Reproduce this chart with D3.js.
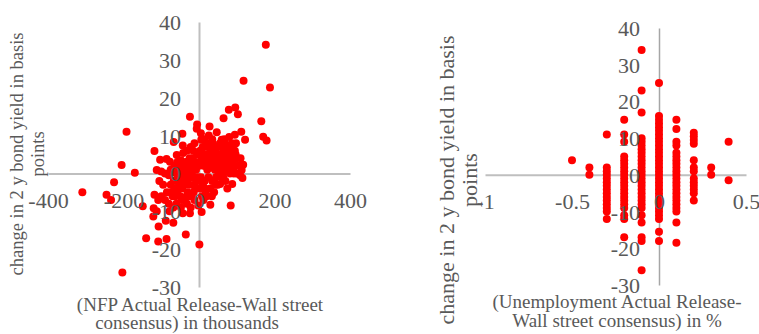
<!DOCTYPE html>
<html>
<head>
<meta charset="utf-8">
<script src="https://cdn.jsdelivr.net/npm/d3@7"></script>
<style>
  html, body { margin: 0; padding: 0; background: #ffffff; }
  svg { display: block; }
  text { font-family: "Liberation Serif", "Times New Roman", serif; fill: #595959; }
</style>
</head>
<body>
<svg id="chart" width="759" height="334"></svg>
<script>
// NFP surprise (thousands) vs. change in 2y yield (bp)
const nfpSurprise = [
  177, 118, 188, -24, 65, 79, 96, 103, 165, 170, 179, -192, -5, -6, 28, -44, 47, 112, 122, 95,
  80, 60, 56, 5, 6, -43, -67, -118, -205, -103, -86, -77, -59, -42, -225, -309, -245, -233, -203, -170,
  -149, -118, -120, -121, -107, -140, -108, -86, -88, -68, -43, -35, 1, 84, 109, 115, 88, 56, 18, 30,
  -2, -24, 7, -112, -108, -90, -112, 87, 117, 113, 91,
  10, 15, 20, 25, 30, 35, 40, 45, 50, 55, 60, 65, 70, 75, 80, 85, 90, 95, 100, 105,
  12, 22, 33, 42, 52, 62, 72, 82, 92, 100, 8, 18, 28, 38, 48, 58, 68, 78, 88, 98,
  3, 14, 26, 36, 46, 66, 76, 86,
  -5, -10, -15, -20, -25, -30, -35, -40, -45, -50, -55, -60, -65, -70, -75, -80, -90, -100, -12, -22,
  -32, -48, -8, -18, -28, -38,
  -5, -10, -15, -20, -25, -30, -35, -40, -45, -50, -55, -60, -65, -70, -75, -80, -85, -95, -100, -105,
  -12, -22, -32, -48, -58, -68, -78,
  5, 10, 15, 20, 25, 30, 35, 40, 45, 50, 60, 70, 75, 8, 3, 12,
  2, 7, 13, 17, 23, 27, 32, 37, 43, 47, 53, 57, 63, 67, 73, 77, 83, 87, 93, 97,
  -3, -7, -13, -17, -23, -27, -33, -37, -43, -47, -53, -57, -63, -67, -73,
  4, 16, 24, 34, 44, 54, 64, 74, -14, -26, -36, -46, -56, 0, 110
];
const nfpYieldChange = [
  34, 24.5, 22.7, 15, 14.6, 16.8, 17.4, 15.6, 13.8, 9.7, 8.7, 11, 12.9, 11.8, 12.4, 10.5, 10.9, 11, 8.9, 10.2,
  9.6, 8.9, 8, 10.6, 8.9, 7.4, 8.3, 5.9, 2.2, 3.6, 3.8, 3.1, 4.9, 5.4, -2.3, -5, -5.6, -7, -26.2, 0.2,
  -8.7, -5.6, -9.2, -11.4, -14, -17.1, -18, -17.3, -12.5, -13, -10.5, -16.1, -18.8, -8.5, -0.5, -1.2, -2.8, -2.8, -4.9, -8.3,
  -8.5, -10.5, -10.2, -10, -7, -7, 0.9, 5.8, 2.3, 0.9, 1,
  7, 5, 8, 3, 6, 9, 4, 7, 2, 5, 3, 6, 4, 7, 2, 5, 3, 6, 4, 2,
  2, 1, 2, 1, 0.5, 1, 0.5, 0, 0, 0, 4, 3, 5, 6, 4, 7, 8, 6, 7, 8,
  6, 9, 10, 7, 5, 2, 3, 1,
  5, 3, 6, 2, 4, 1, 3, 2, 0.5, 2, 1, 0, 2, 0.5, 1, -0.5, 0, 0.5, 8, 7,
  6, 3.5, 1, 0.5, -0.5, 0,
  -2, -4, -1, -6, -3, -5, -2, -7, -4, -6, -2, -8, -4, -6, -3, -8, -5, -3, -6, -2,
  -7, -9, -8, -9, -5, -9, -10,
  -1, -3, -2, -6, -1, -4, -2, -5, -1, -3, -1, -2, -4, -6, -4, -7,
  3, 6, 4, 2, 7, 5, 3, 8, 6, 3, 5, 1, 4, 9, 5, 1, 4, 8, 2, 5,
  -1, 2, -3, 4, -1, 3, -6, 1, -2, -1, -3, 3, -6, -2, -5,
  -2, -4, 4, -6, -3, 0, -1, 5, -5, -6, -3, -7, -1, 2, 4
];

// Unemployment surprise (pp) and the yield changes seen at each surprise level
const unempLevels = [-0.5, -0.4, -0.3, -0.2, -0.1, 0, 0.1, 0.2, 0.3, 0.4];
const unempYieldChanges = [
  [4],
  [2, 0],
  [11, 2, 1, 0, -1, -2, -3, -4, -5, -6, -7, -8, -9, -10, -12],
  [15, 11, 9, 5, 4, 3, 2, 1, 0, -1, -2, -3, -4, -5, -6, -7, -8, -9, -11, -12, -17],
  [34, 23, 17, 10, 9, 8, 7, 6, 5, 4, 3, 2, 1, 0, -1, -2, -3, -4, -5, -6, -7, -8, -9, -11, -13, -17, -18, -26],
  [25, 16, 15, 14, 13, 12, 11, 10, 9, 8, 7, 6, 5, 4, 3, 2, 1, 0, -1, -2, -3, -4, -5, -6, -7, -8, -9, -10, -11, -12, -15.5, -18],
  [15, 12.5, 9, 8, 6, 5, 4, 3, 2, 1, 0, -1, -2, -3, -4, -5, -6, -7, -8, -9, -10, -13, -18.5],
  [11.5, 10.5, 9.5, 8.5, 4, 2, 1, -1, -2, -3, -4, -5, -7],
  [2, 0],
  [9, -1.5]
];

const yTicks = [-30, -20, -10, 0, 10, 20, 30, 40];
const nfpTicks = [-400, -200, 0, 200, 400];
const unempTicks = [-1, -0.5, 0, 0.5];

const yTitle = ["change in 2 y bond yield in basis", "points"];
const nfpTitle = ["(NFP Actual Release-Wall street", "consensus) in thousands"];
const unempTitle = ["(Unemployment Actual Release-", "Wall street consensus) in %"];

const svg = d3.select("#chart");
svg.append("rect").attr("width", 759).attr("height", 334).attr("fill", "#ffffff");

const FONT = "Liberation Serif";
const plainNumber = d => String(d); // hyphen-minus like a spreadsheet label

function drawPanel(cfg) {
  const x = d3.scaleLinear().domain(cfg.xDomain).range(cfg.xRange);
  const y = d3.scaleLinear().domain([-30, 40]).range(cfg.yRange);
  const g = svg.append("g");

  const xAxis = d3.axisBottom(x).tickValues(cfg.xTicks).tickSize(0).tickPadding(cfg.xPad)
    .tickFormat(plainNumber);
  const yAxis = d3.axisLeft(y).tickValues(yTicks).tickSize(0).tickPadding(cfg.yPad)
    .tickFormat(plainNumber);

  // axis lines underneath the markers
  const xLine = g.append("g").attr("transform", `translate(0,${y(0)})`).call(xAxis);
  xLine.selectAll(".tick").remove();
  xLine.select(".domain").attr("stroke", "#bfbfbf").attr("stroke-width", 2);
  const yLine = g.append("g").attr("transform", `translate(${x(0)},0)`).call(yAxis);
  yLine.selectAll(".tick").remove();
  yLine.select(".domain").attr("stroke", cfg.yLineColor).attr("stroke-width", cfg.yLineWidth);

  // markers
  g.append("g").selectAll("circle").data(cfg.points).join("circle")
    .attr("cx", d => x(d[0])).attr("cy", d => y(d[1]))
    .attr("r", 4).attr("fill", "#ff0000");

  // tick labels on top of the markers
  const xLab = g.append("g").attr("transform", `translate(0,${y(0)})`).call(xAxis)
    .attr("font-family", FONT).attr("font-size", 22);
  xLab.select(".domain").remove();
  xLab.selectAll("text").attr("fill", "#595959");
  const yLab = g.append("g").attr("transform", `translate(${x(0)},0)`).call(yAxis)
    .attr("font-family", FONT).attr("font-size", 22);
  yLab.select(".domain").remove();
  yLab.selectAll("text").attr("fill", "#595959").attr("dy", "0.34em");

  // y-axis title (rotated, two lines)
  const yt = g.append("text")
    .attr("transform", `translate(${cfg.yTitleX},${cfg.yTitleY}) rotate(-90)`)
    .attr("text-anchor", "middle").attr("font-size", cfg.yTitleSize);
  yt.append("tspan").attr("x", 0).attr("y", 0).text(yTitle[0]);
  yt.append("tspan").attr("x", 0).attr("y", cfg.yTitleGap).text(yTitle[1]);

  // x-axis title (two lines in one text block)
  const xt = g.append("text").attr("text-anchor", "middle").attr("font-size", 19);
  cfg.xTitle.forEach((line, i) => {
    xt.append("tspan").attr("x", cfg.xTitleX[i]).attr("y", cfg.xTitleY[i]).text(line);
  });
}

drawPanel({
  xDomain: [-400, 400], xRange: [48, 350], yRange: [287, 22],
  xTicks: nfpTicks, xPad: 19, yPad: 18,
  yLineColor: "#bfbfbf", yLineWidth: 2,
  points: nfpSurprise.map((v, i) => [v, nfpYieldChange[i]]),
  yTitleX: 23, yTitleY: 154, yTitleSize: 18.5, yTitleGap: 21,
  xTitle: nfpTitle, xTitleX: [200, 187], xTitleY: [311, 329]
});

drawPanel({
  xDomain: [-1, 0.5], xRange: [485, 746], yRange: [285, 28],
  xTicks: unempTicks, xPad: 19, yPad: 19,
  yLineColor: "#a6a6a6", yLineWidth: 1.5,
  points: unempLevels.flatMap((lv, i) => unempYieldChanges[i].map(v => [lv, v])),
  yTitleX: 454, yTitleY: 180, yTitleSize: 22, yTitleGap: 23,
  xTitle: unempTitle, xTitleX: [617, 617], xTitleY: [308, 327]
});
</script>
</body>
</html>
